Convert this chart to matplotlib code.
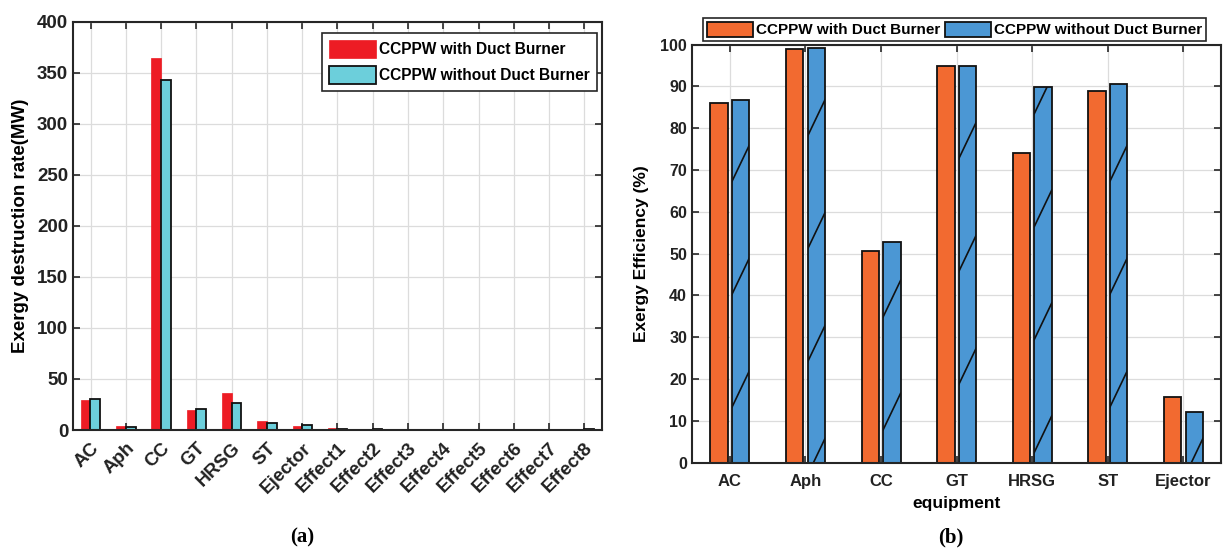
import numpy as np
import matplotlib
matplotlib.use("Agg")
import matplotlib.pyplot as plt
from matplotlib.patches import Rectangle
from matplotlib.lines import Line2D
from matplotlib.legend_handler import HandlerPatch

plt.rcParams["font.family"] = ["Liberation Sans", "DejaVu Sans"]
plt.rcParams["font.weight"] = "bold"

# (a) exergy destruction rate, MW
comp_a = ["AC", "Aph", "CC", "GT", "HRSG", "ST", "Ejector",
          "Effect1", "Effect2", "Effect3", "Effect4",
          "Effect5", "Effect6", "Effect7", "Effect8"]
destr_with = [29.3, 3.9, 365, 20, 36, 8.5, 4.2,
              1.6, 1.3, 1.3, 1.2, 1.2, 1.2, 1.4, 0.3]
destr_without = [30, 3, 343, 20.6, 26.5, 6.8, 5.2,
                 0.8, 0.5, 0.4, 0.4, 0.4, 0.4, 0.4, 0.6]

# (b) exergy efficiency, %
comp_b = ["AC", "Aph", "CC", "GT", "HRSG", "ST", "Ejector"]
eff_with = [86.1, 99.0, 50.7, 94.8, 74.1, 88.8, 15.8]
eff_without = [86.7, 99.1, 52.8, 94.8, 89.9, 90.5, 12.1]

lbl_with = "CCPPW with Duct Burner"
lbl_without = "CCPPW without Duct Burner"

red = "#ED1C24"
cyan = "#6CCFDB"
orange = "#F26A30"
blue = "#4B97D4"
spine_col = "#262626"


def style_axes(ax):
    ax.set_axisbelow(True)
    ax.grid(True, color="#dcdcdc", linewidth=0.9)
    ax.tick_params(direction="in", length=5, width=1.2, top=True, right=True,
                   colors=spine_col, labelcolor="#222222", labelsize=12)
    for s in ax.spines.values():
        s.set_linewidth(1.5)
        s.set_color(spine_col)


class HatchHandler(HandlerPatch):
    def create_artists(self, legend, orig_handle, xdescent, ydescent,
                       width, height, fontsize, trans):
        rect = Rectangle((-xdescent, -ydescent), width, height,
                         facecolor=orig_handle.get_facecolor(),
                         edgecolor="#111111", linewidth=1.3, transform=trans)
        line = Line2D([-xdescent + width * 0.35, -xdescent + width * 0.62],
                      [-ydescent, -ydescent + height],
                      color="#111111", linewidth=1.2, transform=trans)
        return [rect, line]


fig = plt.figure(figsize=(12.23, 5.51), dpi=100)

# ---- (a)
ax1 = fig.add_axes([0.0597, 0.2196, 0.4325, 0.7405])
x = np.arange(1, len(comp_a) + 1)
w = 0.28
ax1.bar(x - 0.135, destr_with, w, color=red, edgecolor=red,
        linewidth=0.5, label=lbl_with)
ax1.bar(x + 0.135, destr_without, w, color=cyan, edgecolor="#111111",
        linewidth=1.3, label=lbl_without)
ax1.set_xlim(0.5, len(comp_a) + 0.5)
ax1.set_ylim(0, 400)
ax1.set_yticks(np.arange(0, 401, 50))
ax1.set_xticks(x)
ax1.set_xticklabels(comp_a, rotation=45, ha="right", rotation_mode="anchor")
style_axes(ax1)
ax1.tick_params(axis="x", labelsize=13.5, pad=7)
ax1.tick_params(axis="y", labelsize=13.5)
ax1.set_ylabel("Exergy destruction rate(MW)", fontsize=13.5,
               fontweight="bold", labelpad=6)
leg1 = ax1.legend(loc="upper right", bbox_to_anchor=(0.99, 0.973),
                  borderaxespad=0, fontsize=11.2, handlelength=3.0,
                  handleheight=1.4, handletextpad=0.2, borderpad=0.45,
                  labelspacing=0.5, fancybox=False, framealpha=1,
                  edgecolor=spine_col)
leg1.get_frame().set_linewidth(1.2)

# ---- (b)
ax2 = fig.add_axes([0.5658, 0.1603, 0.4326, 0.7589])
xb = np.arange(1, len(comp_b) + 1)
wb = 0.23
ax2.bar(xb - 0.14, eff_with, wb, color=orange, edgecolor="#111111",
        linewidth=1.3, label=lbl_with)
bars_wo = ax2.bar(xb + 0.145, eff_without, wb, color=blue,
                  edgecolor="#111111", linewidth=1.3, label=lbl_without)

# sparse single-line hatch like MATLAB hatchfill
hatch_step = 27.0
hatch_slope = 37.8
for b in bars_wo:
    x0, bw, bh = b.get_x(), b.get_width(), b.get_height()
    start = (13.1 + hatch_slope * (x0 - 1.025)) % hatch_step
    for y0 in np.arange(start - hatch_step, bh, hatch_step):
        ln, = ax2.plot([x0, x0 + bw], [y0, y0 + hatch_slope * bw],
                       color="#111111", linewidth=1.2)
        ln.set_clip_path(b)

ax2.set_xlim(0.5, len(comp_b) + 0.5)
ax2.set_ylim(0, 100)
ax2.set_yticks(np.arange(0, 101, 10))
ax2.set_xticks(xb)
ax2.set_xticklabels(comp_b)
style_axes(ax2)
ax2.tick_params(axis="x", labelsize=12, pad=8)
ax2.tick_params(axis="y", labelsize=11.5)
ax2.set_ylabel("Exergy Efficiency (%)", fontsize=12.5, fontweight="bold",
               labelpad=8)
ax2.set_xlabel("equipment", fontsize=12.5, fontweight="bold", labelpad=5)
leg2 = ax2.legend(loc="lower center", bbox_to_anchor=(0.496, 1.008), ncol=2,
                  borderaxespad=0, fontsize=11, handlelength=3.0,
                  handleheight=1.15, handletextpad=0.2, columnspacing=0.3,
                  borderpad=0.25, fancybox=False, framealpha=1,
                  edgecolor=spine_col,
                  handler_map={bars_wo.patches[0]: HatchHandler()})
leg2.get_frame().set_linewidth(1.2)

fig.text(302 / 1223, 1 - 537 / 551, "(a)", ha="center", va="center",
         fontsize=15, fontweight="bold", family=["Liberation Serif"])
fig.text(951 / 1223, 1 - 537 / 551, "(b)", ha="center", va="center",
         fontsize=15, fontweight="bold", family=["Liberation Serif"])

fig.savefig("out.png", dpi=100)
